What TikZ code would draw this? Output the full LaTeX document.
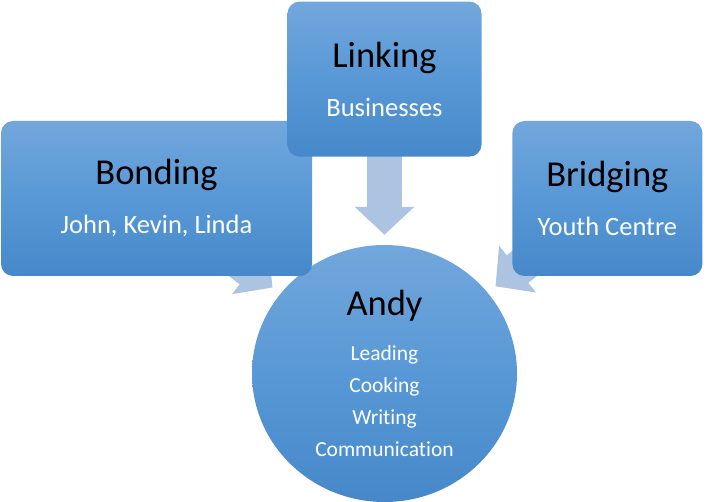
\documentclass[tikz,border=0pt]{standalone}
\usepackage{fontspec}
\setmainfont{Carlito}[Ligatures=NoCommon]
\usetikzlibrary{positioning,shapes.geometric,arrows.meta,backgrounds}

\definecolor{boxtop}{RGB}{114,167,220}
\definecolor{boxmid}{RGB}{88,152,214}
\definecolor{boxbot}{RGB}{70,136,201}
\definecolor{flowblue}{RGB}{172,195,226}

\tikzset{
  box/.style={rectangle, rounded corners=12pt, top color=boxtop, bottom color=boxbot, middle color=boxmid,
    minimum height=155pt, inner sep=0pt, align=center, text=white, font=\fontsize{26.5}{49}\selectfont},
  ball/.style={ellipse, top color=boxtop, bottom color=boxbot, middle color=boxmid,
    minimum width=265pt, minimum height=257pt, inner sep=0pt, align=center, text=white, font=\fontsize{21.5}{32}\selectfont},
  flow/.style={line width=35pt, flowblue, -{Triangle[width=58pt,length=28pt]}, shorten >=10pt},
}
\newcommand{\ttl}[1]{{\color{black}\fontsize{36.5}{36}\selectfont #1}}

\begin{document}
\begin{tikzpicture}[x=1pt,y=1pt]
\useasboundingbox (0,0) rectangle (707,-502);
\node[ball](andy) at (384.5,-373.5){\ttl{Andy}\\[13pt] Leading\\ Cooking\\ Writing\\ Communication};
\node[box, minimum width=311pt](bonding) at (156.5,-198.5){\ttl{Bonding}\\ John, Kevin, Linda};
\node[box, minimum width=190pt, right = 200pt of bonding](bridging){\ttl{Bridging}\\ Youth Centre};
\node[box, minimum width=194pt, above = 88pt of andy](linking){\ttl{Linking}\\ Businesses};
\begin{pgfonlayer}{background}
\path (linking.center) edge[flow] (andy);
\path (bonding.center) edge[flow] (andy);
\path (bridging.center) edge[flow] (andy);
\end{pgfonlayer}
\end{tikzpicture}
\end{document}
